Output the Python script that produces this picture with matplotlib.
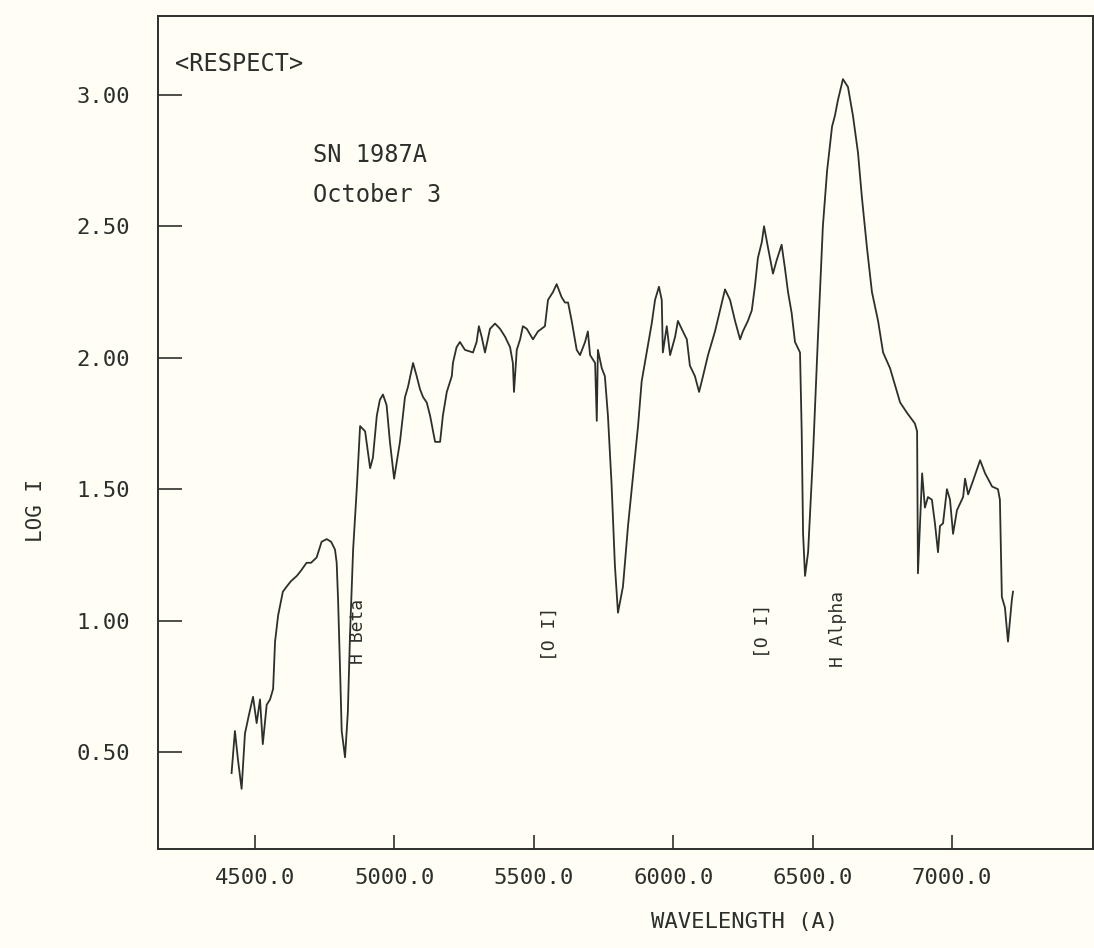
import matplotlib
matplotlib.use("Agg")
import matplotlib.pyplot as plt

# SN 1987A spectrum, October 3
wavelength = [
    4416, 4428, 4439, 4452, 4464, 4478, 4493, 4506, 4518, 4528,
    4542, 4554, 4565, 4572, 4583, 4600, 4614, 4629, 4650, 4665,
    4685, 4701, 4721, 4739, 4757, 4773, 4787, 4793, 4798, 4805,
    4811, 4823, 4833, 4841, 4852, 4865, 4877, 4895, 4913, 4923,
    4937, 4948, 4959, 4972, 4984, 4999, 5020, 5038, 5049, 5067,
    5080, 5092, 5103, 5116, 5128, 5146, 5164, 5174, 5188, 5206,
    5210, 5223, 5235, 5253, 5282, 5295, 5303, 5313, 5325, 5343,
    5361, 5379, 5397, 5415, 5425, 5429, 5439, 5451, 5461, 5475,
    5497, 5515, 5540, 5551, 5569, 5582, 5600, 5612, 5623, 5636,
    5654, 5666, 5684, 5694, 5702, 5720, 5726, 5730, 5744, 5755,
    5766, 5779, 5791, 5802, 5820, 5838, 5856, 5874, 5887, 5905,
    5923, 5935, 5949, 5959, 5963, 5977, 5989, 6007, 6017, 6035,
    6049, 6060, 6078, 6093, 6107, 6125, 6150, 6168, 6186, 6204,
    6222, 6240, 6250, 6268, 6282, 6293, 6304, 6318, 6326, 6340,
    6358, 6371, 6389, 6401, 6412, 6425, 6437, 6455, 6461, 6466,
    6473, 6484, 6502, 6519, 6537, 6552, 6570, 6580, 6591, 6609,
    6627, 6645, 6663, 6677, 6695, 6713, 6735, 6753, 6778, 6814,
    6839, 6867, 6875, 6878, 6893, 6903, 6914, 6928, 6939, 6950,
    6957, 6968, 6982, 6993, 7004, 7018, 7040, 7047, 7058, 7075,
    7101, 7119, 7144, 7165, 7172, 7179, 7190, 7201, 7215, 7219,
]
log_i = [
    0.42, 0.58, 0.47, 0.36, 0.57, 0.64, 0.71, 0.61, 0.70, 0.53,
    0.68, 0.70, 0.74, 0.92, 1.02, 1.11, 1.13, 1.15, 1.17, 1.19,
    1.22, 1.22, 1.24, 1.30, 1.31, 1.30, 1.27, 1.22, 1.08, 0.82,
    0.58, 0.48, 0.65, 0.95, 1.27, 1.50, 1.74, 1.72, 1.58, 1.62,
    1.78, 1.84, 1.86, 1.82, 1.68, 1.54, 1.68, 1.85, 1.89, 1.98,
    1.93, 1.88, 1.85, 1.83, 1.78, 1.68, 1.68, 1.78, 1.87, 1.93,
    1.98, 2.04, 2.06, 2.03, 2.02, 2.06, 2.12, 2.08, 2.02, 2.11,
    2.13, 2.11, 2.08, 2.04, 1.98, 1.87, 2.03, 2.07, 2.12, 2.11,
    2.07, 2.10, 2.12, 2.22, 2.25, 2.28, 2.23, 2.21, 2.21, 2.14,
    2.03, 2.01, 2.06, 2.10, 2.01, 1.98, 1.76, 2.03, 1.96, 1.93,
    1.78, 1.52, 1.21, 1.03, 1.13, 1.36, 1.55, 1.74, 1.91, 2.02,
    2.13, 2.22, 2.27, 2.22, 2.02, 2.12, 2.01, 2.08, 2.14, 2.10,
    2.07, 1.97, 1.93, 1.87, 1.93, 2.01, 2.10, 2.18, 2.26, 2.22,
    2.14, 2.07, 2.10, 2.14, 2.18, 2.27, 2.38, 2.44, 2.50, 2.42,
    2.32, 2.37, 2.43, 2.34, 2.25, 2.17, 2.06, 2.02, 1.72, 1.33,
    1.17, 1.26, 1.64, 2.07, 2.50, 2.71, 2.88, 2.92, 2.98, 3.06,
    3.03, 2.92, 2.78, 2.61, 2.42, 2.25, 2.14, 2.02, 1.96, 1.83,
    1.79, 1.75, 1.72, 1.18, 1.56, 1.43, 1.47, 1.46, 1.37, 1.26,
    1.36, 1.37, 1.50, 1.46, 1.33, 1.42, 1.47, 1.54, 1.48, 1.53,
    1.61, 1.56, 1.51, 1.50, 1.46, 1.09, 1.05, 0.92, 1.08, 1.11,
]

x_ticks = [4500, 5000, 5500, 6000, 6500, 7000]
y_ticks = [0.5, 1.0, 1.5, 2.0, 2.5, 3.0]

line_names = ["H Beta", "[O I]", "[O I]", "H Alpha"]
line_wl = [4869, 5558, 6322, 6591]
line_label_y = [0.96, 0.95, 0.96, 0.97]

PAPER = "#fffdf4"
INK = "#2c302c"
FONT = "DejaVu Sans Mono"

fig = plt.figure(figsize=(10.94, 9.48), dpi=100, facecolor=PAPER)
ax = fig.add_axes([0.1444, 0.1044, 0.8547, 0.8787], facecolor=PAPER)

ax.plot(wavelength, log_i, color=INK, lw=1.3)

ax.set_xlim(4152, 7506)
ax.set_ylim(0.131, 3.30)

ax.set_xticks(x_ticks)
ax.set_xticklabels([f"{v:.1f}" for v in x_ticks])
ax.set_yticks(y_ticks)
ax.set_yticklabels([f"{v:.2f}" for v in y_ticks])
ax.tick_params(axis="x", direction="in", length=10, width=1.2, pad=14,
               colors=INK, labelsize=16)
ax.tick_params(axis="y", direction="in", length=17, width=1.2, pad=20,
               colors=INK, labelsize=16)
for lab in ax.get_xticklabels() + ax.get_yticklabels():
    lab.set_family(FONT)

for sp in ax.spines.values():
    sp.set_color(INK)
    sp.set_linewidth(1.4)

ax.text(0.627, -0.088, "WAVELENGTH (A)", transform=ax.transAxes,
        ha="center", va="center", family=FONT, fontsize=16, color=INK)
ax.text(-0.130, 0.407, "LOG I", transform=ax.transAxes, rotation=90,
        ha="center", va="center", family=FONT, fontsize=15, color=INK)

ax.text(0.018, 0.942, "<RESPECT>", transform=ax.transAxes,
        ha="left", va="center", family=FONT, fontsize=17, color=INK)
ax.text(0.166, 0.833, "SN 1987A", transform=ax.transAxes,
        ha="left", va="center", family=FONT, fontsize=17, color=INK)
ax.text(0.166, 0.785, "October 3", transform=ax.transAxes,
        ha="left", va="center", family=FONT, fontsize=17, color=INK)

for name, wl, y in zip(line_names, line_wl, line_label_y):
    ax.text(wl, y, name, rotation=90, ha="center", va="center",
            family=FONT, fontsize=13, color=INK)

fig.savefig("out.png", dpi=100, facecolor=PAPER)
